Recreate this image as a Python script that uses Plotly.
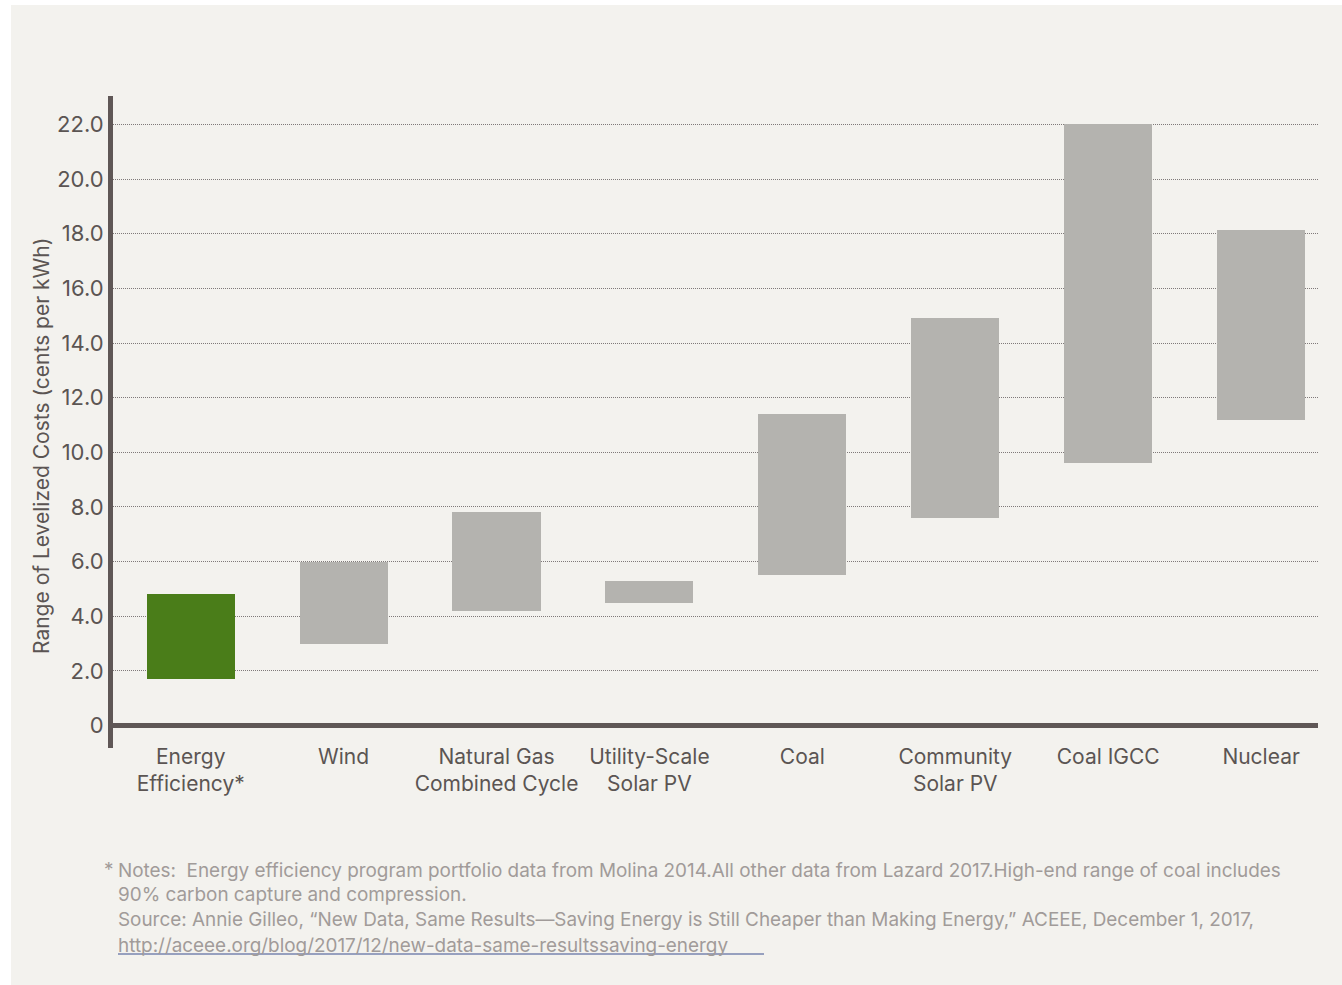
import plotly.graph_objects as go

categories = ["Energy<br>Efficiency*", "Wind", "Natural Gas<br>Combined Cycle",
              "Utility-Scale<br>Solar PV", "Coal", "Community<br>Solar PV",
              "Coal IGCC", "Nuclear"]
low_values = [1.7, 3.0, 4.2, 4.5, 5.5, 7.6, 9.6, 11.2]
high_values = [4.8, 6.0, 7.8, 5.3, 11.4, 14.9, 22.0, 18.15]
bar_colors = ["#4a7d19"] + ["#b4b3af"] * 7
y_tickvals = [0, 2, 4, 6, 8, 10, 12, 14, 16, 18, 20, 22]
y_ticktext = ["0", "2.0", "4.0", "6.0", "8.0", "10.0", "12.0", "14.0",
              "16.0", "18.0", "20.0", "22.0"]

FONT = "Inter"
AXIS_COLOR = "#5f5756"
TEXT_COLOR = "#5b5553"
NOTE_COLOR = "#a19b99"
BG = "#f3f2ee"

x_pos = list(range(len(categories)))
heights = [h - l for h, l in zip(high_values, low_values)]

fig = go.Figure()
fig.add_trace(go.Bar(
    x=x_pos, y=heights, base=low_values, width=0.576,
    marker=dict(color=bar_colors, line=dict(width=0)),
    hoverinfo="skip", showlegend=False,
))

W, H = 1342, 985
L, R, T, B = 113, 24, 96, 237
pw, ph = W - L - R, H - T - B


def px(x):
    return (x - L) / pw


def py(y):
    return (H - B - y) / ph


NOTE_SIZE = 18.9

fig.update_layout(
    width=W, height=H,
    margin=dict(l=L, r=R, t=T, b=B, pad=0),
    paper_bgcolor="white",
    plot_bgcolor="rgba(0,0,0,0)",
    font=dict(family=FONT, color=TEXT_COLOR, size=20),
    bargap=0,
    xaxis=dict(
        range=[-0.508, 7.372], tickvals=x_pos, ticktext=categories,
        showgrid=False, zeroline=False, showline=False, ticks="",
        tickfont=dict(size=21, color=TEXT_COLOR, family=FONT),
        ticklabelstandoff=-6,
        fixedrange=True,
    ),
    yaxis=dict(
        range=[-0.82, 23.04], tickvals=y_tickvals, ticktext=y_ticktext,
        showgrid=True, gridcolor="#7f7979", gridwidth=1, griddash="1px,1px",
        zeroline=True, zerolinecolor=AXIS_COLOR, zerolinewidth=5,
        showline=True, linecolor=AXIS_COLOR, linewidth=5, ticks="",
        tickfont=dict(size=22, color=TEXT_COLOR, family=FONT),
        fixedrange=True,
    ),
    shapes=[
        dict(type="rect", xref="paper", yref="paper",
             x0=px(11), x1=px(1345), y0=py(988), y1=py(5),
             fillcolor=BG, line=dict(width=0), layer="below"),
        dict(type="line", xref="paper", yref="paper",
             x0=px(118), x1=px(764), y0=py(954), y1=py(954),
             line=dict(color="#3a4f8f", width=1)),
    ],
    annotations=[
        dict(text="Range of Levelized Costs (cents per kWh)", textangle=-90,
             xref="paper", yref="paper", x=px(41), y=py(446),
             xanchor="center", yanchor="middle", showarrow=False,
             font=dict(size=21, color=TEXT_COLOR, family=FONT)),
        dict(text="*", xref="paper", yref="paper", x=px(102), y=py(869),
             xanchor="left", yanchor="middle", showarrow=False,
             font=dict(size=NOTE_SIZE, color=NOTE_COLOR, family=FONT)),
        dict(text="Notes:  Energy efficiency program portfolio data from Molina 2014.All other data from Lazard 2017.High-end range of coal includes",
             xref="paper", yref="paper", x=px(116), y=py(871),
             xanchor="left", yanchor="middle", showarrow=False,
             font=dict(size=NOTE_SIZE, color=NOTE_COLOR, family=FONT)),
        dict(text="90% carbon capture and compression.",
             xref="paper", yref="paper", x=px(116), y=py(894),
             xanchor="left", yanchor="middle", showarrow=False,
             font=dict(size=NOTE_SIZE, color=NOTE_COLOR, family=FONT)),
        dict(text="Source: Annie Gilleo, \u201cNew Data, Same Results\u2014Saving Energy is Still Cheaper than Making Energy,\u201d ACEEE, December 1, 2017,",
             xref="paper", yref="paper", x=px(116), y=py(919),
             xanchor="left", yanchor="middle", showarrow=False,
             font=dict(size=NOTE_SIZE, color=NOTE_COLOR, family=FONT)),
        dict(text="http://aceee.org/blog/2017/12/new-data-same-resultssaving-energy",
             xref="paper", yref="paper", x=px(116), y=py(945),
             xanchor="left", yanchor="middle", showarrow=False,
             font=dict(size=NOTE_SIZE, color=NOTE_COLOR, family=FONT)),
    ],
)

fig.write_html("out.html", config={"displayModeBar": False})
